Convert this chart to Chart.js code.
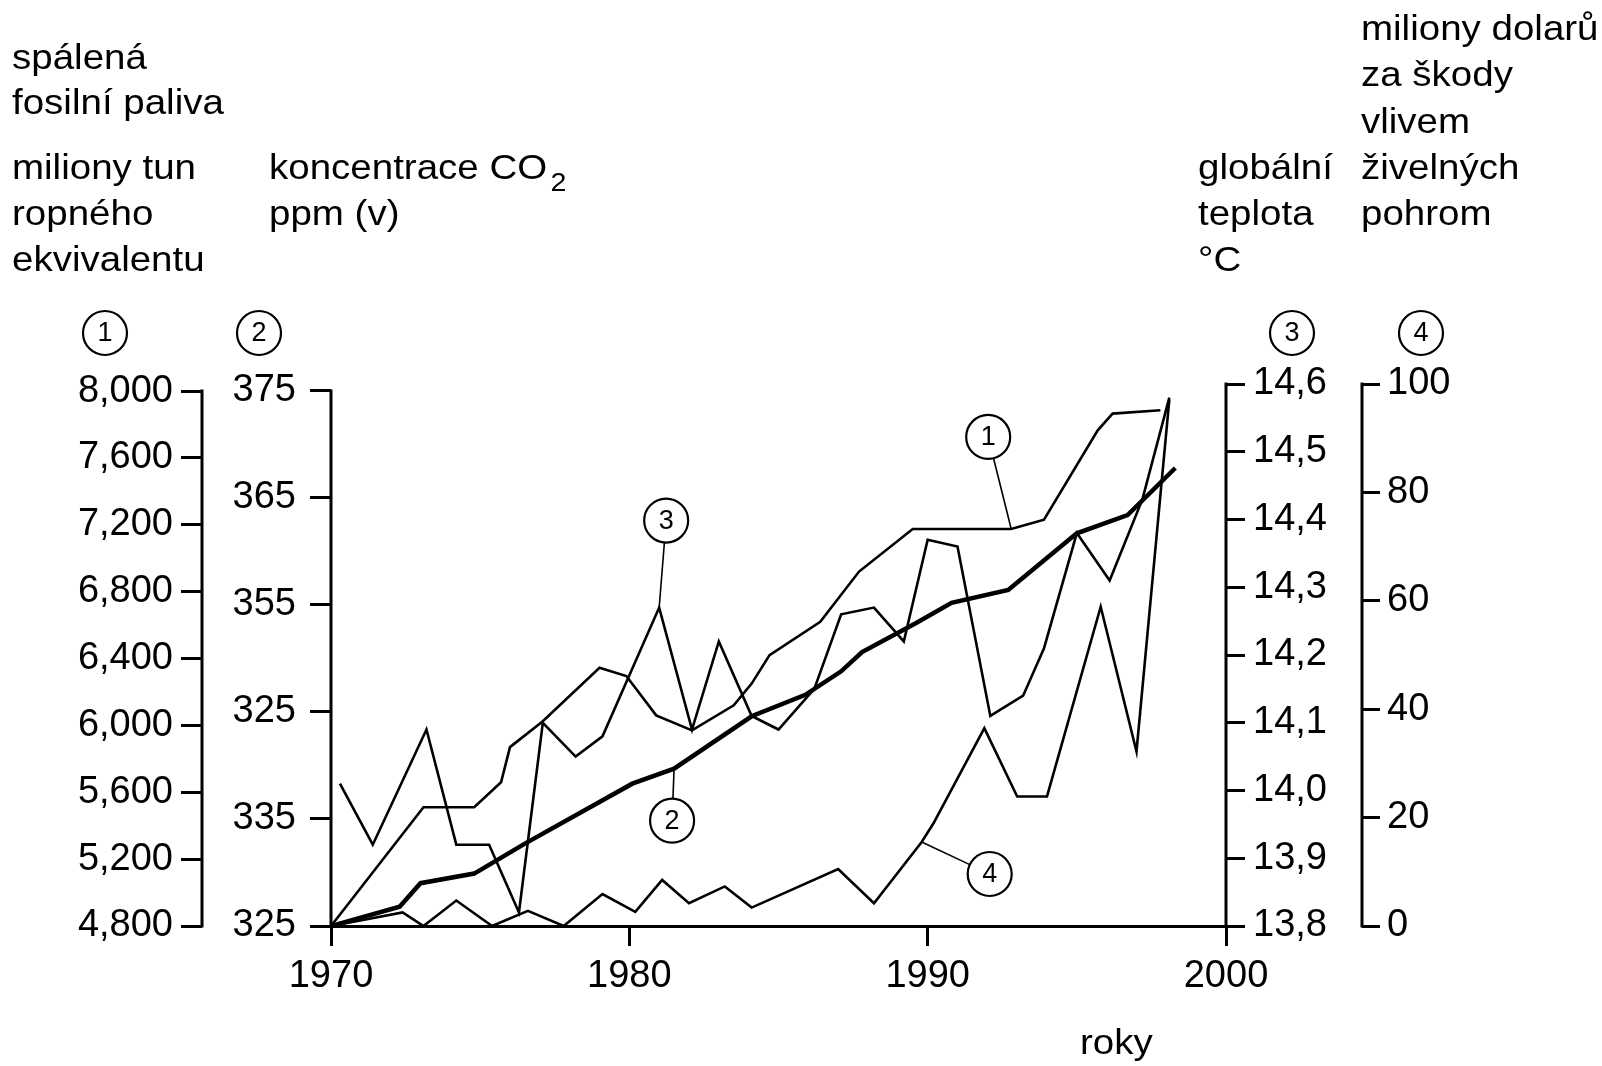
<!DOCTYPE html>
<html lang="cs">
<head>
<meta charset="UTF-8">
<title>Fosilní paliva, CO2, teplota a škody 1970–1998</title>
<script src="https://cdn.jsdelivr.net/npm/chart.js"></script>
<style>
  html, body { margin: 0; padding: 0; background: #fff; }
  #graf { display: block; }
</style>
</head>
<body>
<canvas id="graf" width="1602" height="1066"></canvas>
<script>
// (1) spálená fosilní paliva, mil. tun ropného ekvivalentu
const palivaRoky = [1970, 1973.1, 1974.8, 1975.7, 1976.0, 1977.1, 1979.0, 1979.9, 1980.9, 1982.1, 1983.5, 1984.1, 1984.7, 1986.4, 1987.7, 1989.5, 1992.8, 1993.9, 1995.7, 1996.2, 1997.8];
const palivaHodnoty = [4800, 5510, 5510, 5660, 5870, 6025, 6345, 6295, 6060, 5970, 6120, 6250, 6420, 6620, 6920, 7175, 7175, 7230, 7765, 7865, 7885];

// (2) koncentrace CO2, ppm
const co2Roky = [1970, 1972.3, 1973.0, 1974.8, 1976.5, 1980.1, 1981.5, 1984.1, 1985.9, 1987.1, 1987.8, 1989.6, 1990.8, 1992.7, 1995.0, 1996.7, 1998.3];
const co2Hodnoty = [325.0, 326.8, 329.0, 329.9, 332.7, 338.3, 339.7, 344.6, 346.6, 348.8, 350.6, 353.3, 355.2, 356.4, 361.7, 363.4, 367.8];

// (3) globální teplota, °C
const teplotaRoky = [1970.3, 1971.4, 1973.2, 1974.2, 1975.3, 1976.3, 1977.1, 1978.2, 1979.1, 1981.0, 1982.1, 1983.0, 1984.1, 1985.0, 1986.2, 1987.1, 1988.2, 1989.2, 1990.0, 1991.0, 1992.1, 1993.2, 1993.9, 1995.0, 1996.1, 1997.2, 1998.1];
const teplotaHodnoty = [14.01, 13.92, 14.09, 13.92, 13.92, 13.82, 14.10, 14.05, 14.08, 14.27, 14.09, 14.22, 14.11, 14.09, 14.15, 14.26, 14.27, 14.22, 14.37, 14.36, 14.11, 14.14, 14.21, 14.38, 14.31, 14.43, 14.58];

// (4) škody vlivem živelných pohrom
const skodyRoky = [1970, 1972.4, 1973.1, 1974.2, 1975.4, 1976.6, 1977.8, 1979.1, 1980.2, 1981.1, 1982.0, 1983.2, 1984.1, 1987.0, 1988.2, 1989.8, 1990.2, 1991.9, 1993.0, 1994.0, 1995.8, 1997.0, 1998.1];
const skodyHodnoty = [0, 2.5, 0, 4.7, 0, 2.8, 0, 5.9, 2.6, 8.5, 4.2, 7.3, 3.4, 10.5, 4.2, 15.5, 19.0, 36.5, 23.9, 23.9, 58.9, 32.2, 97.1];

// popisky os (tak jak jsou vytištěné)
const osaXTicky = [1970, 1980, 1990, 2000];
const palivaTicky = [4800, 5200, 5600, 6000, 6400, 6800, 7200, 7600, 8000];
const palivaPopisky = ['4,800', '5,200', '5,600', '6,000', '6,400', '6,800', '7,200', '7,600', '8,000'];
const co2Ticky = [325, 335, 345, 355, 365, 375];
const co2Popisky = ['325', '335', '325', '355', '365', '375'];
const teplotaTicky = [13.8, 13.9, 14.0, 14.1, 14.2, 14.3, 14.4, 14.5, 14.6];
const teplotaPopisky = ['13,8', '13,9', '14,0', '14,1', '14,2', '14,3', '14,4', '14,5', '14,6'];
const skodyTicky = [0, 20, 40, 60, 80, 100];
const skodyPopisky = ['0', '20', '40', '60', '80', '100'];

const PISMO = "'Liberation Sans', Arial, Helvetica, sans-serif";
const CERNA = '#000';

function body(roky, hodnoty) {
  return roky.map((r, i) => ({ x: r, y: hodnoty[i] }));
}
function pevneTicky(hodnoty) {
  return scale => { scale.ticks = hodnoty.map(v => ({ value: v })); };
}
function osaY(pozice, vaha, min, max, ticky, popisky, sirka, odsazeni, delka) {
  return {
    type: 'linear', position: pozice, weight: vaha, min: min, max: max,
    afterBuildTicks: pevneTicky(ticky),
    afterFit: s => { s.width = sirka; },
    border: { display: false },
    grid: { drawOnChartArea: false, drawTicks: true, tickLength: delka, color: CERNA, lineWidth: 3 },
    ticks: {
      autoSkip: false, padding: odsazeni, color: CERNA,
      font: { family: PISMO, size: 38 },
      callback: (v, i) => popisky[i]
    }
  };
}

// texty nad grafem
const titulky = [
  { t: 'spálená', x: 12, y: 69 },
  { t: 'fosilní paliva', x: 12, y: 114 },
  { t: 'miliony tun', x: 12, y: 179 },
  { t: 'ropného', x: 12, y: 225 },
  { t: 'ekvivalentu', x: 12, y: 271 },
  { t: 'koncentrace CO', x: 269, y: 179, sub: '2' },
  { t: 'ppm (v)', x: 269, y: 225 },
  { t: 'globální', x: 1198, y: 179 },
  { t: 'teplota', x: 1198, y: 225 },
  { t: '°C', x: 1198, y: 271 },
  { t: 'miliony dolarů', x: 1361, y: 40 },
  { t: 'za škody', x: 1361, y: 86 },
  { t: 'vlivem', x: 1361, y: 133 },
  { t: 'živelných', x: 1361, y: 179 },
  { t: 'pohrom', x: 1361, y: 225 },
  { t: 'roky', x: 1080, y: 1054 }
];
const cislaOs = [
  { c: '1', x: 105, y: 333 },
  { c: '2', x: 259, y: 333 },
  { c: '3', x: 1292, y: 333 },
  { c: '4', x: 1421, y: 333 }
];
// odkazy na křivky: bod na křivce + posun kroužku
const odkazy = [
  { c: '1', osa: 'y1', rok: 1992.8, hodnota: 7175, dx: -23, dy: -92 },
  { c: '2', osa: 'y2', rok: 1981.5, hodnota: 339.7, dx: -2, dy: 52 },
  { c: '3', osa: 'y3', rok: 1981.0, hodnota: 14.27, dx: 7, dy: -87 },
  { c: '4', osa: 'y4', rok: 1989.8, hodnota: 15.5, dx: 68, dy: 32 }
];

function kruzek(ctx, x, y, c) {
  ctx.beginPath();
  ctx.arc(x, y, 22, 0, Math.PI * 2);
  ctx.lineWidth = 2.2;
  ctx.stroke();
  ctx.font = '27px ' + PISMO;
  ctx.textAlign = 'center';
  ctx.textBaseline = 'middle';
  ctx.fillText(c, x, y + 1);
}

const popiskyPlugin = {
  id: 'popisky',
  afterDraw(chart) {
    const ctx = chart.ctx;
    ctx.save();
    ctx.fillStyle = CERNA;
    ctx.strokeStyle = CERNA;

    // svislé osy jen v rozsahu popisků
    ctx.lineWidth = 3;
    ['y1', 'y2', 'y3', 'y4'].forEach(id => {
      const s = chart.scales[id];
      const x = s.position === 'left' ? s.right : s.left;
      const t = s.ticks;
      ctx.beginPath();
      ctx.moveTo(x, s.getPixelForValue(t[0].value) + 1.5);
      ctx.lineTo(x, s.getPixelForValue(t[t.length - 1].value) - 1.5);
      ctx.stroke();
    });

    // titulky, písmo je v předloze trochu rozšířené
    const sx = 1.1;
    titulky.forEach(p => {
      ctx.save();
      ctx.font = '35px ' + PISMO;
      ctx.textAlign = 'left';
      ctx.textBaseline = 'alphabetic';
      ctx.translate(p.x, p.y);
      ctx.scale(sx, 1);
      ctx.fillText(p.t, 0, 0);
      if (p.sub) {
        const w = ctx.measureText(p.t).width;
        ctx.font = '26px ' + PISMO;
        ctx.fillText(p.sub, w + 3, 12);
      }
      ctx.restore();
    });

    cislaOs.forEach(k => kruzek(ctx, k.x, k.y, k.c));

    odkazy.forEach(o => {
      const px = chart.scales.x.getPixelForValue(o.rok);
      const py = chart.scales[o.osa].getPixelForValue(o.hodnota);
      const cx = px + o.dx, cy = py + o.dy;
      const d = Math.hypot(o.dx, o.dy);
      ctx.beginPath();
      ctx.lineWidth = 1.6;
      ctx.moveTo(px, py);
      ctx.lineTo(cx - o.dx / d * 22, cy - o.dy / d * 22);
      ctx.stroke();
      kruzek(ctx, cx, cy, o.c);
    });
    ctx.restore();
  }
};

const tenka = { borderColor: CERNA, borderWidth: 2.6, pointRadius: 0, tension: 0, fill: false };

new Chart(document.getElementById('graf'), {
  type: 'line',
  data: {
    datasets: [
      Object.assign({ label: 'fosilní paliva', data: body(palivaRoky, palivaHodnoty), yAxisID: 'y1' }, tenka),
      Object.assign({ label: 'CO2', data: body(co2Roky, co2Hodnoty), yAxisID: 'y2' }, tenka, { borderWidth: 4.5 }),
      Object.assign({ label: 'teplota', data: body(teplotaRoky, teplotaHodnoty), yAxisID: 'y3' }, tenka),
      Object.assign({ label: 'škody', data: body(skodyRoky, skodyHodnoty), yAxisID: 'y4' }, tenka)
    ]
  },
  options: {
    responsive: false,
    animation: false,
    devicePixelRatio: 1,
    layout: { padding: { top: 384, left: 0, right: 0, bottom: 0 } },
    plugins: { legend: { display: false }, tooltip: { enabled: false } },
    scales: {
      x: {
        type: 'linear', min: 1970, max: 2000,
        afterBuildTicks: pevneTicky(osaXTicky),
        afterFit: s => { s.height = 140; },
        border: { display: true, color: CERNA, width: 3 },
        grid: { drawOnChartArea: false, drawTicks: true, tickLength: 20, color: CERNA, lineWidth: 3 },
        ticks: {
          autoSkip: false, maxRotation: 0, padding: 8, color: CERNA,
          font: { family: PISMO, size: 38 },
          callback: v => String(v)
        }
      },
      y1: osaY('left', 2, 4800, 8042, palivaTicky, palivaPopisky, 202, 8, 21),
      y2: osaY('left', 1, 325, 375.65, co2Ticky, co2Popisky, 129, 14, 21),
      y3: osaY('right', 1, 13.8, 14.6, teplotaTicky, teplotaPopisky, 136, 8, 19),
      y4: osaY('right', 2, 0, 100, skodyTicky, skodyPopisky, 240, 7, 18)
    }
  },
  plugins: [popiskyPlugin]
});
</script>
</body>
</html>
